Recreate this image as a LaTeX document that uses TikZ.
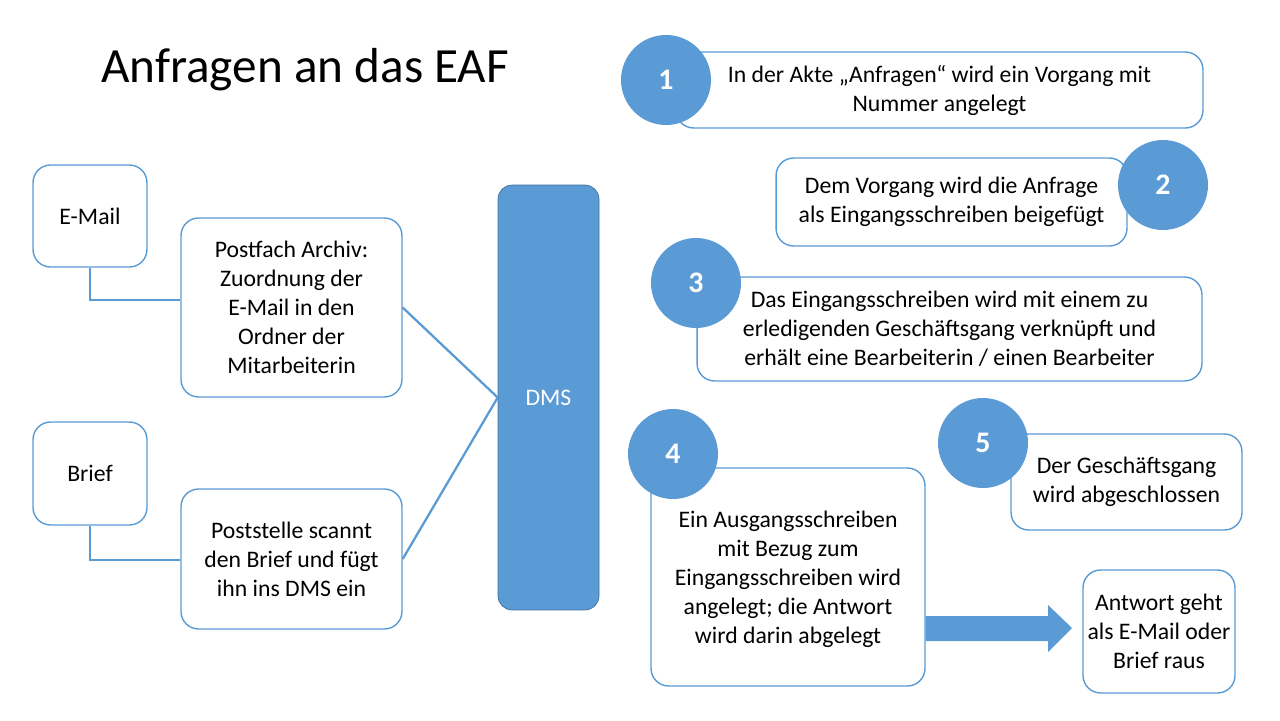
\documentclass[tikz,border=0pt]{standalone}
\usepackage{fontspec}
\setmainfont{Carlito}
\usetikzlibrary{positioning,calc}
\definecolor{eafblue}{HTML}{5B9BD5}
\definecolor{eafdark}{HTML}{41719C}
\begin{document}
\begin{tikzpicture}[x=0.02cm,y=-0.02cm,
  box/.style={draw=eafblue,rounded corners=10pt,line width=0.8pt,fill=white,
    align=center,font=\fontsize{13.5}{16.5}\selectfont,inner sep=2pt},
  num/.style={circle,fill=eafblue,text=white,minimum size=1.8cm,inner sep=0pt,
    font=\fontsize{17}{20}\selectfont\bfseries},
  link/.style={eafblue,line width=1.3pt}]
 \useasboundingbox (0,0) rectangle (1280,720);
 \node[anchor=west,font=\fontsize{28}{32}\selectfont] (title) at (95,70) {Anfragen an das EAF};
 % left side
 \node[box,minimum width=2.28cm,minimum height=2.04cm] (mail) at (90,216) {E-Mail};
 \node[box,minimum width=4.42cm,minimum height=3.58cm] (fach) at (291.5,307.5)
  {Postfach Archiv:\\Zuordnung der\\E-Mail in den\\Ordner der\\Mitarbeiterin};
 \node[box,minimum width=2.28cm,minimum height=2.06cm] (brief) at (90,473.5) {Brief};
 \node[box,minimum width=4.42cm,minimum height=2.8cm] (post) at (291.5,559)
  {Poststelle scannt\\den Brief und fügt\\ihn ins DMS ein};
 \node[draw=eafdark,fill=eafblue,rounded corners=8pt,text=white,minimum width=2.02cm,
  minimum height=8.5cm,font=\fontsize{13.5}{16}\selectfont] (dms) at (548.5,397.5) {DMS};
 \draw[link] (mail.south) |- (fach.west |- 0,300);
 \draw[link] (brief.south) |- (post.west |- 0,560);
 \draw[link] (fach.east) -- (dms.west);
 \draw[link] (post.east) -- (dms.west);
 % steps
 \node[box,minimum width=10.54cm,minimum height=1.52cm] (s1) at (939.5,90)
  {In der Akte „Anfragen“ wird ein Vorgang mit\\Nummer angelegt};
 \node[num] (n1) at (666,80) {1};
 \node[box,minimum width=7.02cm,minimum height=1.76cm] (s2) at (951.5,202)
  {Dem Vorgang wird die Anfrage\\als Eingangsschreiben beigefügt};
 \node[num] (n2) at (1163,185) {2};
 \node[box,minimum width=10.1cm,minimum height=2.08cm] (s3) at (949.5,329)
  {Das Eingangsschreiben wird mit einem zu\\erledigenden Geschäftsgang verknüpft und\\erhält eine Bearbeiterin / einen Bearbeiter};
 \node[num] (n3) at (696,283) {3};
 \node[box,minimum width=5.48cm,minimum height=4.36cm,text depth=0pt] (s4) at (788,577)
  {Ein Ausgangsschreiben\\mit Bezug zum\\Eingangsschreiben wird\\angelegt; die Antwort\\wird darin abgelegt};
 \node[num] (n4) at (673,454) {4};
 \node[box,minimum width=4.62cm,minimum height=1.92cm] (s5) at (1126.5,482)
  {Der Geschäftsgang\\wird abgeschlossen};
 \node[num] (n5) at (983,443) {5};
 \node[box,minimum width=3.04cm,minimum height=2.46cm] (out) at (1159,631.5)
  {Antwort geht\\als E-Mail oder\\Brief raus};
 \fill[eafblue] (s4.east |- 0,616) -- (1048,616) -- (1048,605) -- (1072,628)
  -- (1048,652) -- (1048,641) -- (s4.east |- 0,641) -- cycle;
\end{tikzpicture}
\end{document}
